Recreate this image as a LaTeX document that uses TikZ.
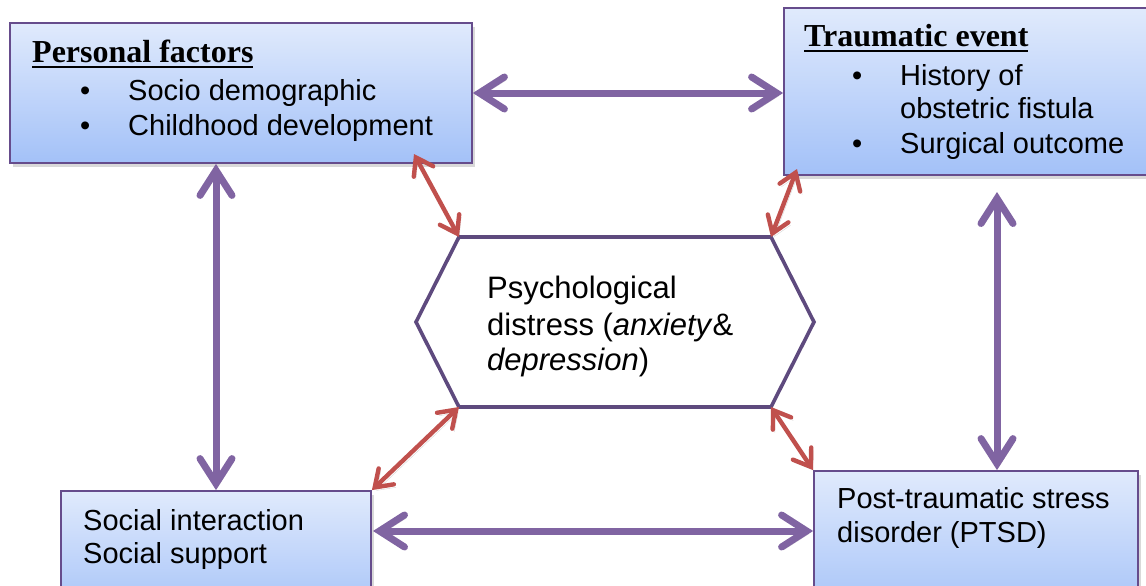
\documentclass[tikz,border=0pt]{standalone}
\usepackage{fontspec}
\setmainfont{Liberation Sans}
\newfontfamily\headfont{Liberation Serif}
\usetikzlibrary{arrows.meta,shadows}

\definecolor{boxtop}{HTML}{E0EAFC}
\definecolor{boxbot}{HTML}{A3C1F8}
\definecolor{boxline}{HTML}{664C8C}
\definecolor{hexline}{HTML}{5E4A7E}
\definecolor{linkpurple}{HTML}{8064A2}
\definecolor{linkred}{HTML}{C0504D}

% bold heading with a heavy underline
\newcommand\headline[1]{\setbox0\hbox{#1}\rlap{\rule[-5.5pt]{\wd0}{2.6pt}}\box0}

\begin{document}
\begin{tikzpicture}[x=1pt,y=-1pt,
  box/.style={draw=boxline, line width=1.8pt, top color=boxtop, bottom color=boxbot,
    inner sep=0pt,
    drop shadow={shadow xshift=3pt, shadow yshift=-4pt, opacity=0.25, fill=black!60}},
  body/.style={font=\fontsize{29}{35}\selectfont, anchor=base west, inner sep=0pt},
  hextext/.style={font=\fontsize{31}{36}\selectfont, anchor=base west, inner sep=0pt},
  head/.style={font=\headfont\bfseries\fontsize{32}{38}\selectfont, anchor=base west, inner sep=0pt},
  linkshadow/.style={preaction={draw=black, draw opacity=0.16,
    transform canvas={shift={(2pt,-3pt)}}}},
  bigarrow/.style={draw=linkpurple, line width=7pt, linkshadow,
    {Straight Barb[length=25pt,width=32pt,line cap=round]}-{Straight Barb[length=25pt,width=32pt,line cap=round]}},
  smallarrow/.style={draw=linkred, line width=4.4pt, linkshadow,
    {Straight Barb[length=16pt,width=22pt,line cap=round]}-{Straight Barb[length=16pt,width=22pt,line cap=round]}},
]
\useasboundingbox (0,0) rectangle (1146,586);
\clip (0,0) rectangle (1146,586);

% boxes
\node[box, minimum width=462pt, minimum height=140pt] (personal) at (241,93) {};
\node[box, minimum width=376pt, minimum height=167pt] (trauma) at (972,91.5) {};
\node[box, minimum width=310pt, minimum height=129pt] (social) at (216,555.5) {};
\node[box, minimum width=324pt, minimum height=149pt] (ptsd) at (976,545.5) {};

% personal factors
\node[head] (pfhead) at (32,63) {\headline{Personal factors}};
\node[body] (pfb1) at (80,100) {\textbullet};
\node[body] (pf1) at (128,100) {Socio demographic};
\node[body] (pfb2) at (80,135) {\textbullet};
\node[body] (pf2) at (128,135) {Childhood development};

% traumatic event
\node[head] (tehead) at (804,47) {\headline{Traumatic event}};
\node[body] (teb1) at (852,85) {\textbullet};
\node[body] (te1) at (900,85) {History of};
\node[body] (te1b) at (900,118) {obstetric fistula};
\node[body] (teb2) at (852,153) {\textbullet};
\node[body] (te2) at (900,153) {Surgical outcome};

% social
\node[body] (so1) at (83,530) {Social interaction};
\node[body] (so2) at (83,563) {Social support};

% PTSD
\node[body] (pt1) at (837,508) {Post-traumatic stress};
\node[body] (pt2) at (837,542) {disorder (PTSD)};

% central hexagon
\coordinate (hTL) at (459,237);
\coordinate (hTR) at (771,237);
\coordinate (hR) at (814,322);
\coordinate (hBR) at (771,407);
\coordinate (hBL) at (459,407);
\coordinate (hL) at (416,322);
\draw[hexline, line width=3.6pt, fill=white] (hTL) -- (hTR) -- (hR) -- (hBR) -- (hBL) -- (hL) -- cycle;
\node[hextext] (ps1) at (487,298) {Psychological};
\node[hextext] (ps2) at (487,335) {distress (\textit{anxiety}\&};
\node[hextext] (ps3) at (487,370) {\textit{depression})};

% links between the outer boxes
\coordinate (tv) at (997,192);
\coordinate (bh) at (373,531);
\draw[bigarrow] (personal.east) -- (personal.east -| trauma.west);
\draw[bigarrow] (social.north |- personal.south) -- (social.north);
\draw[bigarrow] (tv) -- (tv |- ptsd.north);
\draw[bigarrow] (bh) -- (bh -| ptsd.west);

% links to the central hexagon
\coordinate (pfend) at (414,154);
\coordinate (teend) at (797,169);
\draw[smallarrow] (pfend) -- (hTL);
\draw[smallarrow] (teend) -- (hTR);
\draw[smallarrow] (hBL) -- (social.north east);
\draw[smallarrow] (hBR) -- (ptsd.north west);
\end{tikzpicture}
\end{document}
